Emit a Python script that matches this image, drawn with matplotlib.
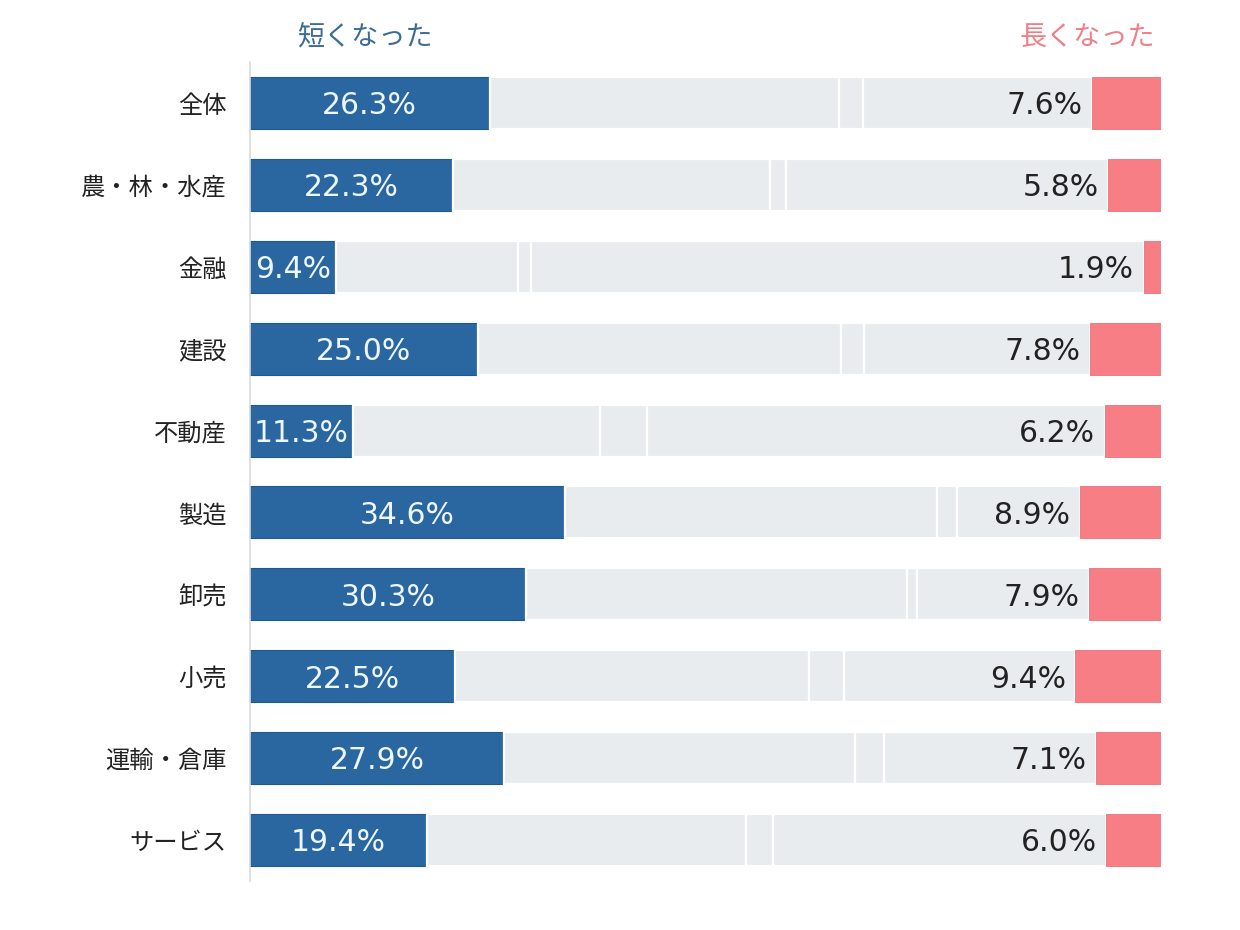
import numpy as np
import matplotlib
matplotlib.use("Agg")
import matplotlib.pyplot as plt

plt.rcParams['font.family'] = ['Noto Sans CJK JP', 'DejaVu Sans']

# categories (top to bottom)
categories = ['全体', '農・林・水産', '金融', '建設', '不動産',
              '製造', '卸売', '小売', '運輸・倉庫', 'サービス']

# share answering "shorter" (blue) and "longer" (pink), in %
shorter = [26.3, 22.3, 9.4, 25.0, 11.3, 34.6, 30.3, 22.5, 27.9, 19.4]
longer = [7.6, 5.8, 1.9, 7.8, 6.2, 8.9, 7.9, 9.4, 7.1, 6.0]

# unlabeled middle segments (grey)
mid_a = [38.4, 34.8, 20.0, 39.9, 27.1, 40.8, 41.8, 38.9, 38.5, 35.0]
mid_b = [2.6, 1.7, 1.4, 2.5, 5.2, 2.2, 1.1, 3.8, 3.2, 3.0]
mid_c = [25.1, 35.4, 67.3, 24.8, 50.2, 13.5, 18.9, 25.4, 23.3, 36.6]

header_left = '短くなった'
header_right = '長くなった'

BLUE = '#2a66a0'
PINK = '#f77e84'
GREY = '#e9ecee'

fig = plt.figure(figsize=(12.4, 9.3), dpi=100)
ax = fig.add_axes([0.2016, 0.0527, 0.7347, 0.8806])

y = np.arange(len(categories))
h = 0.635

left = np.zeros(len(categories))
ax.barh(y, shorter, height=h, left=left, color=BLUE, edgecolor='#1f5a8e', linewidth=0.8)
left += shorter
for seg in (mid_a, mid_b, mid_c):
    ax.barh(y, seg, height=h, left=left, color=GREY, edgecolor='white', linewidth=1.6)
    left += seg
ax.barh(y, longer, height=h, left=100 - np.array(longer), color=PINK, edgecolor='#ee7078', linewidth=0.6)

# value labels (wider latin font for the numbers)
num_font = ['DejaVu Sans']
for i in range(len(categories)):
    ax.annotate(f'{shorter[i]:.1f}%', xy=(shorter[i] / 2, y[i]), xytext=(0, -2),
                textcoords='offset points', ha='center', va='center',
                fontsize=21.5, color='#eef6ff', family=num_font)
    ax.annotate(f'{longer[i]:.1f}%', xy=(100 - longer[i], y[i]), xytext=(-7, -2),
                textcoords='offset points', ha='right', va='center',
                fontsize=21.5, color='#222222', family=num_font)

ax.set_xlim(0, 100)
ax.set_ylim(len(categories) - 0.5, -0.5)
ax.set_yticks(y)
ax.set_yticklabels(categories, fontsize=17.5, color='#222222')
ax.tick_params(axis='y', length=0, pad=17)
ax.set_xticks([])
for side in ('top', 'right', 'bottom'):
    ax.spines[side].set_visible(False)
ax.spines['left'].set_color('#d8dbde')
ax.spines['left'].set_linewidth(1.2)

ax.text(0.0516, 1.029, header_left, transform=ax.transAxes, ha='left', va='center',
        fontsize=19.5, color='#3b6c98')
ax.text(0.9934, 1.029, header_right, transform=ax.transAxes, ha='right', va='center',
        fontsize=19.5, color='#f07f86')

fig.savefig('out.png', dpi=100, facecolor='white')
